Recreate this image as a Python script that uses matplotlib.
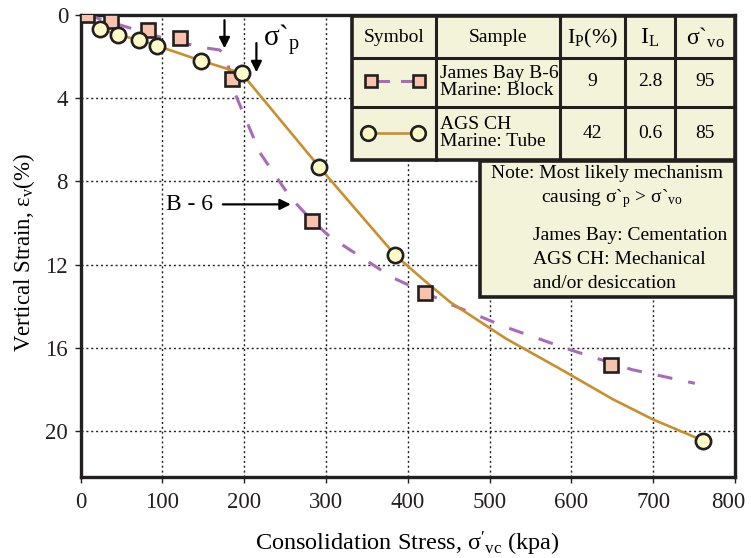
import matplotlib
matplotlib.use("Agg")
import matplotlib.pyplot as plt
from matplotlib.patches import Rectangle
from matplotlib.lines import Line2D
from matplotlib.transforms import ScaledTranslation

plt.rcParams['font.family'] = ['Liberation Serif', 'DejaVu Serif']
plt.rcParams['mathtext.fontset'] = 'custom'
plt.rcParams['mathtext.rm'] = 'Liberation Serif'
plt.rcParams['mathtext.it'] = 'Liberation Serif:italic'
plt.rcParams['mathtext.bf'] = 'Liberation Serif:bold'

# ---- data -------------------------------------------------------------
# James Bay B-6 (Marine: Block) test points
jb_stress = [8, 37, 82, 122, 185, 283, 421, 648]
jb_strain = [0.0, 0.27, 0.72, 1.09, 3.09, 9.92, 13.36, 16.8]
# James Bay B-6 fitted curve
jb_fit_stress = [8, 97, 146, 170, 178, 186, 219, 256, 281, 305, 382, 448, 520, 598, 674, 751]
jb_fit_strain = [0.0, 1.06, 1.54, 1.68, 1.97, 3.5, 6.6, 8.74, 9.8, 10.66, 12.63, 13.83, 15.0, 16.08, 17.04, 17.7]

# AGS CH (Marine: Tube) test points
ags_stress = [24, 46, 71.5, 93, 147, 197, 292, 385, 761]
ags_strain = [0.67, 0.96, 1.2, 1.47, 2.19, 2.8, 7.31, 11.55, 20.45]
# AGS CH fitted curve
ags_fit_stress = [10, 24, 46, 71.5, 93, 147, 197, 292, 340, 385, 420, 452, 520, 586, 650, 700, 761]
ags_fit_strain = [0.1, 0.67, 0.96, 1.2, 1.47, 2.19, 2.8, 7.31, 9.5, 11.55, 12.75, 13.8, 15.55, 17.0, 18.45, 19.44, 20.45]

x_ticks = [0, 100, 200, 300, 400, 500, 600, 700, 800]
y_ticks = [0, 4, 8, 12, 16, 20]

# table contents
table_header = ['Symbol', 'Sample', r'I$_\mathrm{P}$(%)', r'I$_\mathrm{L}$', r'σˋ$_\mathrm{vo}$']
samples = ['James Bay B-6\nMarine: Block', 'AGS CH\nMarine: Tube']
ip_vals = ['9', '42']
il_vals = ['2.8', '0.6']
svo_vals = ['95', '85']

# ---- style ------------------------------------------------------------
purple = '#a96bb8'
orange = '#c98f2c'
sq_fill = '#f8c2ad'
ci_fill = '#fffbc9'
edge = '#231f20'
beige = '#f3f3da'

W, H = 751, 558
fig = plt.figure(figsize=(W / 100, H / 100), dpi=100)
ax = fig.add_axes([80.5 / W, 1 - 477 / H, (735 - 80.5) / W, (477 - 15) / H])


def P(x, y):
    """pixel position (from top-left) to figure fraction"""
    return x / W, 1 - y / H


ax.plot(jb_fit_stress, jb_fit_strain, color=purple, lw=2.2, ls=(0, (4.9, 5.3)), zorder=3)
ax.plot(ags_fit_stress, ags_fit_strain, color=orange, lw=1.9, zorder=3)
ax.plot(jb_stress, jb_strain, ls='none', marker='s', ms=9.5, mfc=sq_fill, mec=edge, mew=1.9, zorder=5)
ax.plot(ags_stress, ags_strain, ls='none', marker='o', ms=11, mfc=ci_fill, mec=edge, mew=1.9, zorder=5)

ax.set_xlim(0, 800)
ax.set_ylim(22.2, 0)
ax.set_xticks(x_ticks)
ax.set_yticks(y_ticks)
ax.tick_params(labelsize=16.5, length=4, width=1, colors=edge, pad=5)
ax.tick_params(axis='x', pad=7)
ax.grid(True, color='#222222', ls=(0, (1.5, 2.0)), lw=1.0)
for s in ax.spines.values():
    s.set_linewidth(2.4)
    s.set_color(edge)

# keep the last x tick label inside the figure
last = ax.xaxis.get_major_ticks()[-1].label1
last.set_transform(last.get_transform() + ScaledTranslation(-7 / 100, 0, fig.dpi_scale_trans))

ax.set_xlabel(r"Consolidation Stress, $\mathrm{σ'_{vc}}$ (kpa)", fontsize=17.5, labelpad=12)
ax.set_ylabel(r"Vertical Strain, $\mathrm{ε_{v}}$(%)", fontsize=16.5)
ax.yaxis.set_label_coords(-0.066, 0.485)

# preconsolidation arrows
arrow_kw = dict(arrowstyle='-|>', lw=1.6, color='black', mutation_scale=16, shrinkA=0, shrinkB=0)
ax.annotate('', xy=(176, 1.6), xytext=(176, 0.25), arrowprops=arrow_kw)
ax.annotate('', xy=(215, 2.75), xytext=(215, 1.35), arrowprops=arrow_kw)
fig.text(*P(263, 47), r'σˋ$_\mathrm{p}$', fontsize=21, ha='left', va='baseline')

# B - 6 label
ax.annotate('', xy=(257, 9.1), xytext=(174, 9.1), arrowprops=arrow_kw)
fig.text(*P(189, 205), 'B - 6', fontsize=17, ha='center', va='center')

# ---- table ------------------------------------------------------------
cols = [352, 436, 560, 625, 675, 735]
rows = [16, 58, 107, 160]
fig.add_artist(Rectangle(P(352, 160), (735 - 352) / W, (160 - 16) / H, transform=fig.transFigure,
                         facecolor=beige, edgecolor=edge, lw=2.6, zorder=10))
for c in cols[1:-1]:
    fig.add_artist(Line2D([c / W, c / W], [1 - 16 / H, 1 - 160 / H], transform=fig.transFigure,
                          color=edge, lw=2.2, zorder=11))
for r in rows[1:-1]:
    fig.add_artist(Line2D([352 / W, 735 / W], [1 - r / H, 1 - r / H], transform=fig.transFigure,
                          color=edge, lw=2.2, zorder=11))

centers = [(cols[i] + cols[i + 1]) / 2 for i in range(5)]
hy = 38
header_sizes = [14, 14, 16, 17, 17]
for i, t in enumerate(table_header):
    fig.text(*P(centers[i], hy), t, fontsize=header_sizes[i], ha='center', va='center', zorder=12)

row_y = [82, 133]
for k in range(2):
    y = row_y[k]
    fig.text(*P(440, y), samples[k], fontsize=14, ha='left', va='center', linespacing=1.0, zorder=12)
    fig.text(*P(centers[2], y), ip_vals[k], fontsize=14, ha='center', va='center', zorder=12)
    fig.text(*P(centers[3], y), il_vals[k], fontsize=14, ha='center', va='center', zorder=12)
    fig.text(*P(centers[4], y), svo_vals[k], fontsize=14, ha='center', va='center', zorder=12)

# symbol column: B-6 key (two short dashes between squares)
for xa, xb in [(371, 388), (402, 419)]:
    fig.add_artist(Line2D([xa / W, xb / W], [1 - 81 / H] * 2, transform=fig.transFigure,
                          color=purple, lw=2.2, zorder=12))
fig.add_artist(Line2D([371 / W, 419 / W], [1 - 81 / H] * 2, transform=fig.transFigure, ls='none',
                      marker='s', ms=9, mfc=sq_fill, mec=edge, mew=1.9, zorder=13))
# AGS CH key
fig.add_artist(Line2D([368 / W, 418 / W], [1 - 133 / H] * 2, transform=fig.transFigure, color=orange,
                      lw=1.9, marker='o', ms=10.5, mfc=ci_fill, mec=edge, mew=1.9, zorder=12))

# ---- note box ---------------------------------------------------------
fig.add_artist(Rectangle(P(480, 297), (735 - 480) / W, (297 - 161) / H, transform=fig.transFigure,
                         facecolor=beige, edgecolor=edge, lw=2.6, zorder=10))
fig.text(*P(607, 174), 'Note: Most likely mechanism', fontsize=14, ha='center', va='center', zorder=12)
fig.text(*P(612, 199), r'causing σˋ$_\mathrm{p}$ > σˋ$_\mathrm{vo}$', fontsize=14, ha='center', va='center', zorder=12)
fig.text(*P(533, 236), 'James Bay: Cementation', fontsize=14, ha='left', va='center', zorder=12)
fig.text(*P(533, 259), 'AGS CH: Mechanical', fontsize=14, ha='left', va='center', zorder=12)
fig.text(*P(533, 283), 'and/or desiccation', fontsize=14, ha='left', va='center', zorder=12)

fig.savefig('out.png', dpi=100)
